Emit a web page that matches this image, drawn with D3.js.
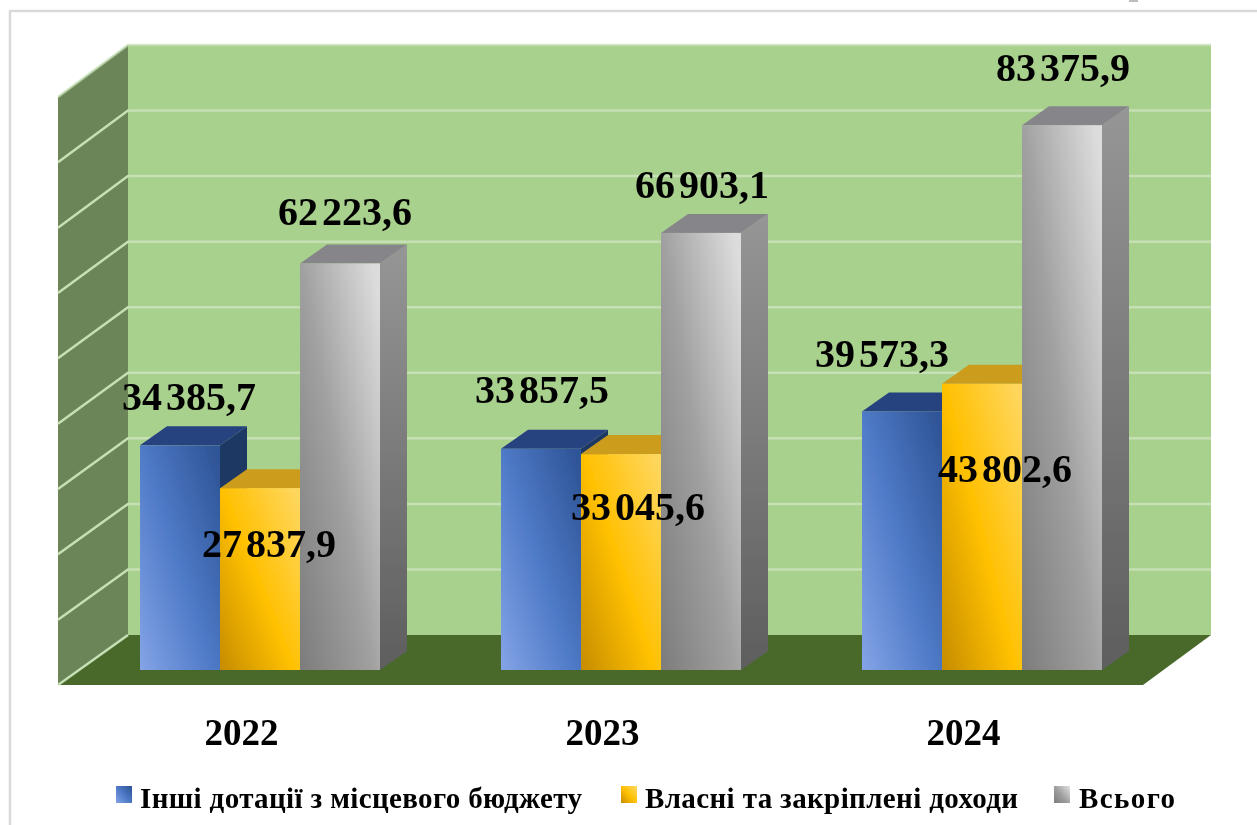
<!DOCTYPE html>
<html lang="uk">

<head>
    <meta charset="UTF-8">
    <title>Доходи</title>
    <style>
        html, body {
            margin: 0;
            background: #fff;
        }

        svg {
            display: block;
            font-family: "Liberation Serif", serif;
            font-weight: bold;
        }
    </style>
</head>

<body>
    <div id="chart"></div>
    <script src="https://d3js.org/d3.v7.min.js"></script>
    <script>
        const years = ["2022", "2023", "2024"];
        const seriesNames = ["Інші дотації з місцевого бюджету", "Власні та закріплені доходи", "Всього"];
        const otherGrants = [34385.7, 33857.5, 39573.3];
        const ownIncome = [27837.9, 33045.6, 43802.6];
        const total = [62223.6, 66903.1, 83375.9];
        const gridTicks = [0, 10000, 20000, 30000, 40000, 50000, 60000, 70000, 80000, 90000];

        // label offsets from the middle of each bar top, [series][year]
        const labelShift = [
            [[9, -35], [1, -46], [-20, -44]],
            [[9, 69], [17, 66], [23, 98]],
            [[5, -38], [1, -35], [1, -44]]
        ];

        const width = 1257;
        const height = 825;
        const depthX = 27;
        const depthY = -19;

        const looks = [
            { id: "blue", stops: ["#84a4e6", "#4f7ac7", "#2f5597"], side: ["#1f3864", "#1f3864"], top: "#25427f", legend: 116 },
            { id: "gold", stops: ["#c58c00", "#ffc000", "#ffd65c"], side: ["#a97c10", "#a97c10"], top: "#cc9c1c", legend: 621 },
            { id: "gray", stops: ["#7c7c7c", "#a0a0a0", "#dcdcdc"], side: ["#969696", "#5e5e5e"], top: "#86868a", legend: 1054 }
        ];
        const legendText = [
            { x: 140, w: 442 },
            { x: 645, w: 373 },
            { x: 1079, w: 96 }
        ];

        const x0 = d3.scaleBand().domain(years).range([60, 1143]);
        const x1 = d3.scaleBand().domain(d3.range(3)).range([80, 320]);
        const yBar = d3.scaleLinear().domain([0, 90000]).range([670, 82]);
        const yBack = d3.scaleLinear().domain([0, 90000]).range([635, 45]);
        const yFront = d3.scaleLinear().domain([0, 90000]).range([685, 97]);

        const fmt = v => {
            const [a, b] = v.toFixed(1).split(".");
            return a.slice(0, -3) + " " + a.slice(-3) + "," + b;
        };

        const svg = d3.select("#chart").append("svg")
            .attr("width", width)
            .attr("height", height)
            .attr("viewBox", [0, 0, width, height]);

        const defs = svg.append("defs");
        defs.append("filter").attr("id", "soft")
            .attr("filterUnits", "userSpaceOnUse")
            .attr("x", 0).attr("y", 0)
            .attr("width", width).attr("height", height)
            .append("feGaussianBlur").attr("stdDeviation", 0.7);

        looks.forEach(l => {
            const g = defs.append("linearGradient").attr("id", l.id)
                .attr("x1", 0).attr("y1", 1).attr("x2", 1).attr("y2", 0.1);
            g.selectAll("stop").data(l.stops).join("stop")
                .attr("offset", (d, i) => i / 2)
                .attr("stop-color", d => d);
            const s = defs.append("linearGradient").attr("id", l.id + "Side")
                .attr("x1", 0).attr("y1", 0).attr("x2", 0).attr("y2", 1);
            s.selectAll("stop").data(l.side).join("stop")
                .attr("offset", (d, i) => i)
                .attr("stop-color", d => d);
        });

        const root = svg.append("g").attr("filter", "url(#soft)");

        // frame of the page
        root.append("path")
            .attr("d", `M10,${height}V11H${width}`)
            .attr("fill", "none")
            .attr("stroke", "#d9d9d9")
            .attr("stroke-width", 2.5);
        root.append("rect")
            .attr("x", 1129).attr("y", 0).attr("width", 9).attr("height", 2)
            .attr("fill", "#bdbdbd");

        // walls and floor
        const xL = 58, xB = 128, xR = 1211, xF = 1143;
        root.append("path")
            .attr("d", `M${xB},${yBack(90000)}H${xR}V${yBack(0)}H${xB}Z`)
            .attr("fill", "#a9d18e");
        root.append("path")
            .attr("d", `M${xL},${yFront(90000)}L${xB},${yBack(90000)}V${yBack(0)}L${xL},${yFront(0)}Z`)
            .attr("fill", "#6c8559");
        root.append("path")
            .attr("d", `M${xL},${yFront(0)}L${xB},${yBack(0)}H${xR}L${xF},${yFront(0)}Z`)
            .attr("fill", "#48692a");

        // grid
        const grid = root.append("g")
            .attr("fill", "none")
            .attr("stroke", "#c5e0b4")
            .attr("stroke-width", 2.5);
        grid.selectAll("path")
            .data(gridTicks)
            .join("path")
            .attr("d", d => `M${xL},${yFront(d)}L${xB},${yBack(d)}H${d === 0 ? xB : xR}`)
            .attr("stroke-opacity", d => d === 90000 ? 0.7 : 1);

        // bars
        const seriesData = [otherGrants, ownIncome, total];
        const bars = [];
        years.forEach((year, j) => {
            seriesData.forEach((vals, i) => {
                bars.push({ year, j, i, v: vals[j] });
            });
        });

        const barX = d => x0(d.year) + x1(d.i);
        const bw = x1.bandwidth();

        const barG = root.append("g").selectAll("g").data(bars).join("g");
        barG.append("path")
            .attr("d", d => {
                const x = barX(d) + bw, t = yBar(d.v), b = yBar(0);
                return `M${x},${t}l${depthX},${depthY}V${b + depthY}l${-depthX},${-depthY}Z`;
            })
            .attr("fill", d => `url(#${looks[d.i].id}Side)`);
        barG.append("path")
            .attr("d", d => {
                const x = barX(d), t = yBar(d.v);
                return `M${x},${t}l${depthX},${depthY}h${bw}l${-depthX},${-depthY}Z`;
            })
            .attr("fill", d => looks[d.i].top);
        barG.append("rect")
            .attr("x", barX)
            .attr("y", d => yBar(d.v))
            .attr("width", bw)
            .attr("height", d => yBar(0) - yBar(d.v))
            .attr("fill", d => `url(#${looks[d.i].id})`);

        // value labels
        root.append("g")
            .attr("text-anchor", "middle")
            .attr("font-size", 40)
            .attr("word-spacing", -6)
            .selectAll("text")
            .data(bars)
            .join("text")
            .attr("x", d => barX(d) + bw / 2 + labelShift[d.i][d.j][0])
            .attr("y", d => yBar(d.v) + labelShift[d.i][d.j][1])
            .text(d => fmt(d.v));

        // year labels
        root.append("g")
            .attr("text-anchor", "middle")
            .attr("font-size", 37)
            .selectAll("text")
            .data(years)
            .join("text")
            .attr("x", d => x0(d) + x0.bandwidth() / 2 + 1)
            .attr("y", 745)
            .text(d => d);

        // legend
        const legend = root.append("g").selectAll("g").data(seriesNames).join("g");
        legend.append("rect")
            .attr("x", (d, i) => looks[i].legend)
            .attr("y", 786)
            .attr("width", 16)
            .attr("height", 17)
            .attr("fill", (d, i) => `url(#${looks[i].id})`);
        legend.append("text")
            .attr("x", (d, i) => legendText[i].x)
            .attr("y", 808)
            .attr("font-size", 29)
            .attr("textLength", (d, i) => legendText[i].w)
            .attr("lengthAdjust", "spacing")
            .text(d => d);
    </script>
</body>

</html>
